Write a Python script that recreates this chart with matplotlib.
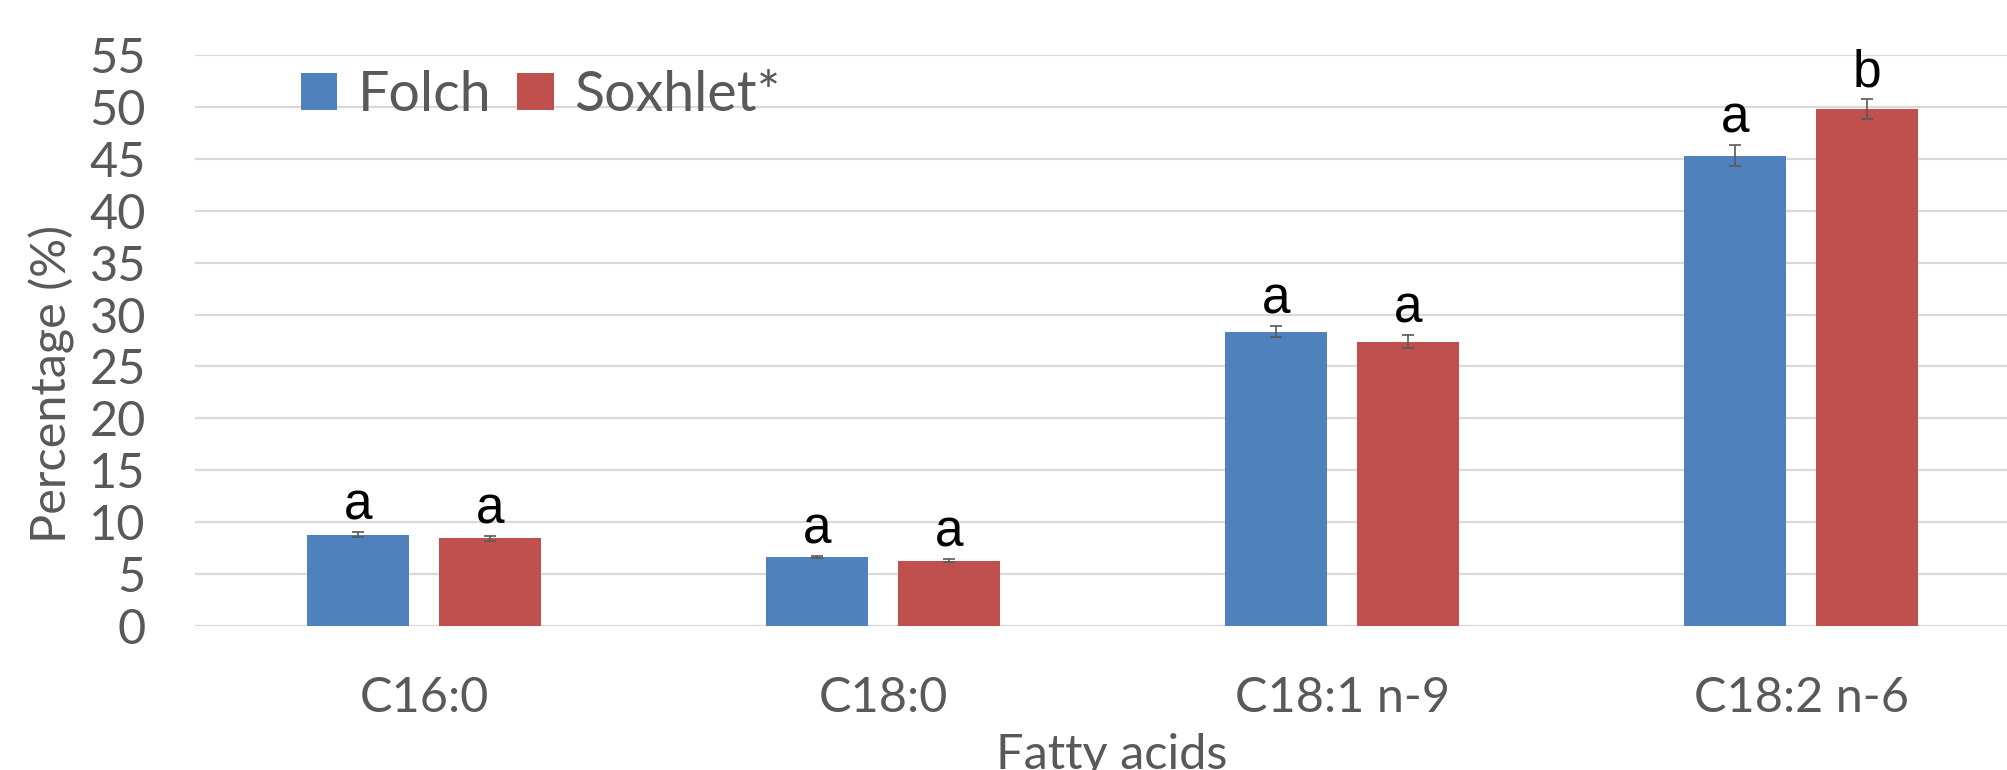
import numpy as np
import matplotlib
matplotlib.use('Agg')
import matplotlib.pyplot as plt
from matplotlib.patches import Patch

categories = ['C16:0', 'C18:0', 'C18:1 n-9', 'C18:2 n-6']
folch = [8.8, 6.65, 28.35, 45.3]
soxhlet = [8.45, 6.27, 27.4, 49.8]
folch_err = [0.25, 0.1, 0.5, 1.0]
soxhlet_err = [0.22, 0.15, 0.6, 1.0]
folch_letters = ['a', 'a', 'a', 'a']
soxhlet_letters = ['a', 'a', 'a', 'b']
yticks = list(range(0, 56, 5))

BLUE = '#4F81BD'
RED = '#C0504D'
GRAY = '#595959'
FONT = 'Lato'

fig = plt.figure(figsize=(20.08, 7.7), dpi=100)
# axes run past the right edge, the reference is cropped there
ax = fig.add_axes([0.0969, 0.187, 0.9143, 0.7416])

x = np.arange(len(categories))
w = 0.223
off = 0.1435
ax.bar(x - off, folch, w, color=BLUE, zorder=3)
ax.bar(x + off, soxhlet, w, color=RED, zorder=3)
ax.errorbar(x - off, folch, yerr=folch_err, fmt='none', ecolor=GRAY, elinewidth=1.2, capsize=4, capthick=1.2, zorder=4)
ax.errorbar(x + off, soxhlet, yerr=soxhlet_err, fmt='none', ecolor=GRAY, elinewidth=1.2, capsize=4, capthick=1.2, zorder=4)

for xs, vals, errs, letters in [(x - off, folch, folch_err, folch_letters), (x + off, soxhlet, soxhlet_err, soxhlet_letters)]:
    for xi, v, e, t in zip(xs, vals, errs, letters):
        ax.annotate(t, (xi, v + e), xytext=(0, 9), textcoords='offset points',
                    ha='center', va='baseline', fontsize=37, family='Liberation Sans', color='black')

ax.set_xlim(-0.5, 3.5)
ax.set_ylim(0, 55)
ax.set_yticks(yticks)
ax.set_xticks(x)
ax.set_xticklabels(categories)
ax.yaxis.grid(True, color='#D9D9D9', linewidth=1.6, zorder=0)
ax.set_axisbelow(True)
for s in ax.spines.values():
    s.set_visible(False)
ax.tick_params(axis='y', length=0, pad=35, labelsize=35, labelcolor=GRAY)
ax.tick_params(axis='x', length=0, pad=36, labelsize=35, labelcolor=GRAY)
for lab in ax.get_xticklabels() + ax.get_yticklabels():
    lab.set_family(FONT)

fig.text(52 / 2008, 1 - 384 / 770, 'Percentage (%)', rotation=90, ha='center', va='center',
         fontsize=35, color=GRAY, family=FONT)
fig.text(1112 / 2008, 0.0015, 'Fatty acids', ha='center', va='baseline',
         fontsize=35, color=GRAY, family=FONT)

handles = [Patch(facecolor=BLUE), Patch(facecolor=RED)]
ax.legend(handles, ['Folch', 'Soxhlet*'], loc='lower left', bbox_to_anchor=(301 / 2008, 1 - 121 / 770),
          bbox_transform=fig.transFigure, ncol=2, frameon=False, borderpad=0, borderaxespad=0,
          handlelength=0.65, handleheight=0.65, handletextpad=0.38, columnspacing=0.46,
          prop={'family': FONT, 'size': 40}, labelcolor=GRAY)

fig.savefig('out.png', dpi=100)
